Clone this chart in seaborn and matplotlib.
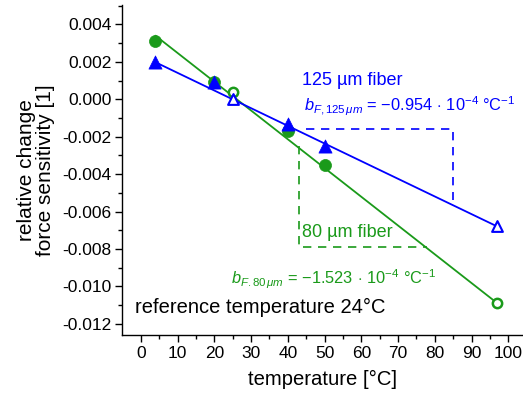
import numpy as np
import pandas as pd
import seaborn as sns
import matplotlib
matplotlib.use("Agg")
import matplotlib.pyplot as plt

# measured points (temperature in °C, relative change of force sensitivity)
temp_fit = [4, 20, 40, 50]
fiber80_fit = [0.0031, 0.0009, -0.0017, -0.0035]
fiber125_fit = [0.0020, 0.0009, -0.0013, -0.0025]

temp_open = [25, 97]
fiber80_open = [0.0004, -0.0109]
fiber125_open = [0.0000, -0.0068]

# fitted lines (end points)
line_temp = [4, 97]
line80 = [0.0034, -0.0109]
line125 = [0.00198, -0.0068]

# slope triangles
tri125_x = [45, 85, 85]
tri125_y = [-0.0016, -0.0016, -0.0054]
tri80_x = [43, 43, 78]
tri80_y = [-0.0025, -0.0079, -0.0079]

GREEN = "#1a9a1a"
BLUE = "#0000ff"

sns.set_theme(style="ticks")
plt.rcParams["font.family"] = ["Liberation Sans", "DejaVu Sans"]
plt.rcParams["mathtext.fontset"] = "custom"
plt.rcParams["mathtext.rm"] = "Liberation Sans"
plt.rcParams["mathtext.it"] = "Liberation Sans:italic"

fig = plt.figure(figsize=(5.23, 4.0), dpi=100)
ax = fig.add_axes([0.234, 0.1625, 0.766, 0.8255])

df_fit = pd.DataFrame({"T": temp_fit, "f80": fiber80_fit, "f125": fiber125_fit})
df_open = pd.DataFrame({"T": temp_open, "f80": fiber80_open, "f125": fiber125_open})
df_line = pd.DataFrame({"T": line_temp, "f80": line80, "f125": line125})

sns.lineplot(data=df_line, x="T", y="f80", color=GREEN, lw=1.3, ax=ax)
sns.lineplot(data=df_line, x="T", y="f125", color=BLUE, lw=1.3, ax=ax)

ax.plot(tri125_x, tri125_y, ls=(0, (5, 4)), color=BLUE, lw=1.2)
ax.plot(tri80_x, tri80_y, ls=(0, (5, 4)), color=GREEN, lw=1.2)

sns.scatterplot(data=df_fit, x="T", y="f80", color=GREEN, marker="o", s=75,
                edgecolor=GREEN, linewidth=0.5, ax=ax, zorder=5)
sns.scatterplot(data=df_fit, x="T", y="f125", color=BLUE, marker="^", s=90,
                edgecolor=BLUE, linewidth=0.5, ax=ax, zorder=5)
sns.scatterplot(data=df_open, x="T", y="f80", facecolor="white", marker="o", s=45,
                edgecolor=GREEN, linewidth=1.8, ax=ax, zorder=5)
sns.scatterplot(data=df_open, x="T", y="f125", facecolor="white", marker="^", s=60,
                edgecolor=BLUE, linewidth=1.5, ax=ax, zorder=5)

ax.text(44, 0.00098, "125 µm fiber", color=BLUE, fontsize=13, va="center", ha="left")
ax.text(44.5, -0.00063,
        r"$b_{F,125\,\mu m}$ = −0.954$\,\cdot\,$10$^{-4}$ °C$^{-1}$",
        color=BLUE, fontsize=11.8, va="baseline", ha="left")
ax.text(44, -0.00713, "80 µm fiber", color=GREEN, fontsize=13, va="center", ha="left")
ax.text(24.5, -0.00987,
        r"$b_{F.80\,\mu m}$ = −1.523$\,\cdot\,$10$^{-4}$ °C$^{-1}$",
        color=GREEN, fontsize=11.8, va="baseline", ha="left")
ax.text(-1.7, -0.01113, "reference temperature 24°C", color="black", fontsize=14.5,
        va="center", ha="left")

ax.set_xlim(-5, 104)
ax.set_ylim(-0.0126, 0.00505)
ax.set_xticks(np.arange(0, 101, 10))
ax.set_xticks(np.arange(0, 101, 5), minor=True)
ax.set_yticks(np.arange(-0.012, 0.0041, 0.002))
ax.set_yticks(np.arange(-0.012, 0.0051, 0.001), minor=True)
ax.yaxis.set_major_formatter(matplotlib.ticker.FuncFormatter(lambda v, p: f"{v:.3f}"))

ax.tick_params(axis="both", which="major", direction="out", length=5, width=1,
               labelsize=12.5, color="black", labelcolor="black", pad=3)
ax.tick_params(axis="both", which="minor", direction="out", length=3, width=1, color="black")
ax.set_xlabel("temperature [°C]", fontsize=14.6, color="black", labelpad=6)
ax.set_ylabel("relative change\nforce sensitivity [1]", fontsize=15, color="black",
              labelpad=5, linespacing=1.0)

for s in ["top", "right"]:
    ax.spines[s].set_visible(False)
for s in ["left", "bottom"]:
    ax.spines[s].set_color("black")
    ax.spines[s].set_linewidth(1)

fig.savefig("out.png", dpi=100)
